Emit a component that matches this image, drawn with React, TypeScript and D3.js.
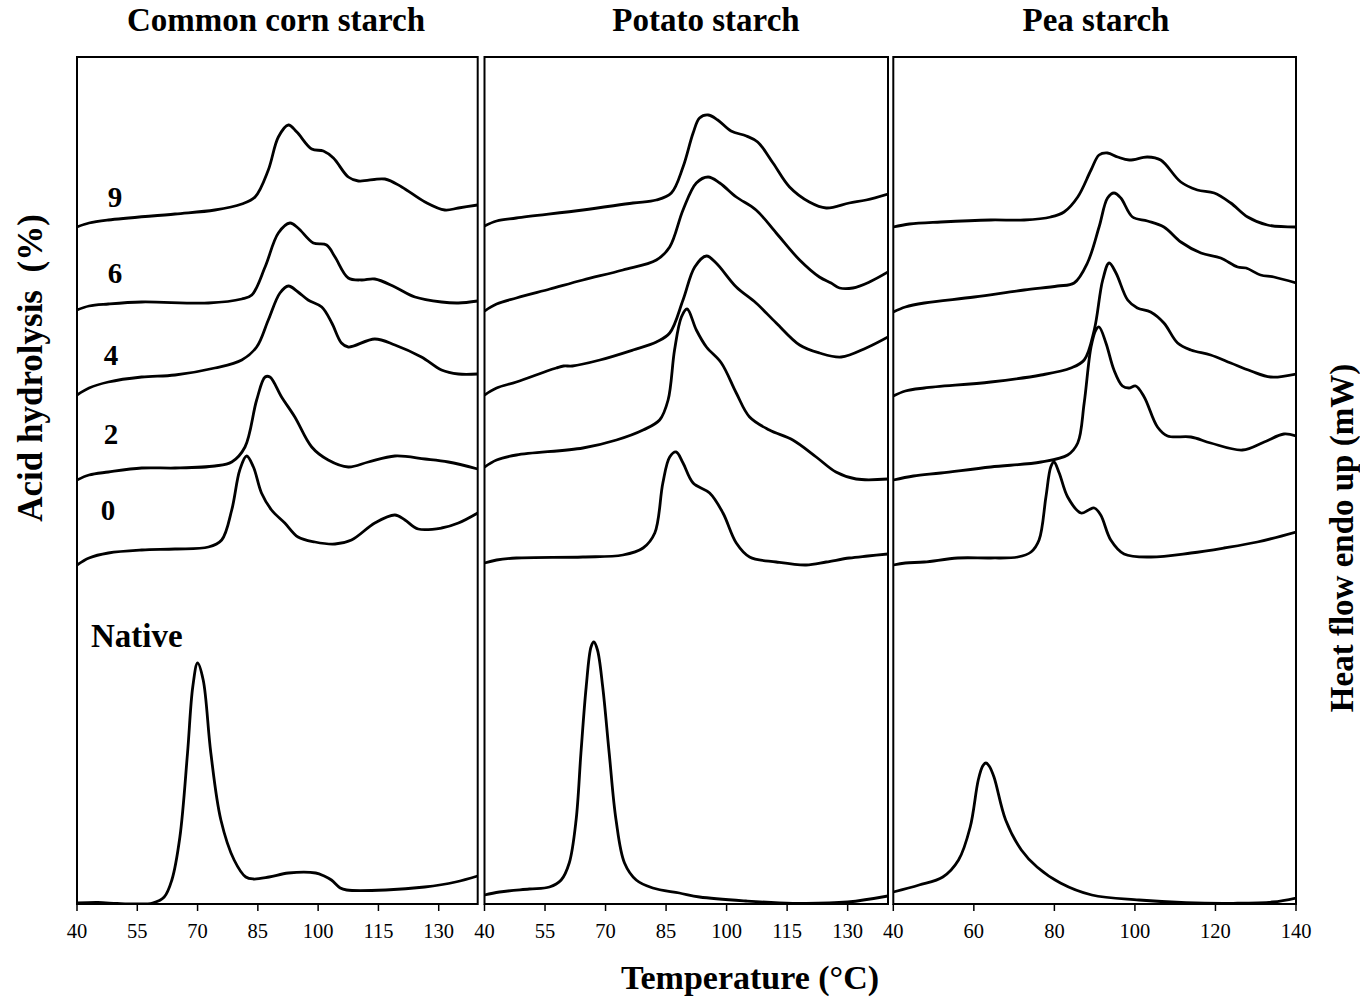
import React from "react";
import * as d3 from "d3";

type Pt = [number, number];

// DSC thermograms: temperature (°C) vs heat flow (stacked, arbitrary units)
const panelTitles = ["Common corn starch", "Potato starch", "Pea starch"];
const seriesLabels = ["9", "6", "4", "2", "0"];
const nativeLabel = "Native";
const xTitle = "Temperature (°C)";
const leftTitle = "Acid hydrolysis  (%)";
const rightTitle = "Heat flow endo up (mW)";

const ticksCornPotato = [40, 55, 70, 85, 100, 115, 130];
const ticksPea = [40, 60, 80, 100, 120, 140];

// Common corn starch
const cornNative: Pt[] = [[40,0.1],[45.2,0.15],[50,0.05],[55,0],[58.8,0.1],[61.7,0.7],[63.6,2.4],[65.6,6.7],[67.5,15.1],[68.8,21.7],[70,24.1],[71.4,22.4],[73.3,15.1],[75.8,8.4],[79.1,4.4],[82,2.7],[83.9,2.5],[87.8,2.7],[92.6,3.1],[99.4,3.1],[101.5,2.8],[103.3,2.4],[105.5,1.6],[107.1,1.4],[116.8,1.4],[126.5,1.7],[134.2,2.2],[139.7,2.8]];
const corn0: Pt[] = [[40,33.9],[43,34.6],[47.8,35.1],[56.1,35.4],[64.4,35.5],[72.7,35.7],[76,36.4],[78.5,39.4],[80.5,43.4],[82.2,44.8],[83.9,43.7],[85.9,41.1],[88.4,39.4],[91.7,38.1],[95,36.7],[99.2,36.2],[104.2,36.0],[108.3,36.4],[114.1,38.1],[119.1,38.9],[121.6,38.4],[124.9,37.5],[130.7,37.6],[134.9,38.1],[139.7,39.1]];
const corn2: Pt[] = [[40,42.4],[43,42.9],[47.8,43.2],[56.1,43.6],[64.4,43.6],[74.3,43.8],[78.5,44.2],[81.8,45.7],[84.7,50.4],[86.8,52.7],[88,52.7],[90.9,50.7],[94.2,48.7],[98.4,45.7],[102.5,44.4],[107.5,43.7],[112.5,44.2],[119.1,44.8],[126.6,44.5],[132.4,44.2],[139.7,43.5]];
const corn4: Pt[] = [[40,50.9],[43,51.6],[47.8,52.2],[56.1,52.7],[64.4,52.9],[74.3,53.6],[81,54.4],[84.7,55.7],[87.6,58.4],[90.5,61.1],[92.6,61.8],[95,61.2],[97.5,60.4],[100.9,59.7],[103.4,58.1],[105.8,56.1],[107.5,55.7],[114.1,56.5],[119.1,55.9],[125.7,54.7],[130.7,53.4],[134.9,53.0],[139.7,53.0]];
const corn6: Pt[] = [[40,59.4],[43,59.8],[47.8,60.0],[56.1,60.2],[72.7,60.1],[81,60.5],[83.5,60.9],[86.8,63.7],[90.1,67.1],[93,68.1],[95,67.6],[98.8,66.1],[102.1,65.9],[104.2,64.7],[107.5,62.6],[110.8,62.4],[114.1,62.5],[119.1,61.7],[124.1,60.7],[130.7,60.2],[134.9,60.1],[139.7,60.3]];
const corn9: Pt[] = [[40,67.7],[43,68.1],[47.8,68.4],[64.4,69.0],[74.3,69.4],[81,70.0],[84.3,70.7],[87.6,73.4],[90.1,76.7],[92.6,77.9],[94.7,77.2],[98.4,75.5],[101.3,75.3],[103.8,74.6],[107.5,72.7],[110,72.3],[116.6,72.5],[120.8,71.7],[126.6,70.2],[131.5,69.4],[134.9,69.6],[139.7,69.9]];

// Potato starch
const potatoNative: Pt[] = [[40,0.9],[43.7,1.2],[51.1,1.5],[56.1,1.7],[59,2.4],[61,4.1],[62.7,8.4],[63.9,15.1],[65.2,21.7],[66.4,25.7],[67.1,26.2],[68,25.4],[69.3,21.7],[70.9,15.1],[72.6,8.4],[74.7,4.1],[77.6,2.4],[81.7,1.6],[88.3,1.1],[93.3,0.7],[104.8,0.3],[116.4,0.07],[130,0.2],[140,0.8]];
const potato0: Pt[] = [[40,34.1],[43,34.4],[47.9,34.6],[64.4,34.7],[74.3,34.9],[79.3,35.6],[82.2,37.1],[84.2,42.1],[85.9,44.7],[87.5,45.2],[89.2,44.1],[91.7,42.1],[95.8,41.1],[99.1,39.1],[102.4,36.1],[105.7,34.7],[112.3,34.2],[119.7,33.9],[124.7,34.2],[130.4,34.6],[135,34.8],[140,35.0]];
const potato2: Pt[] = [[40,43.7],[43,44.4],[47.9,44.9],[64.4,45.6],[72.7,46.4],[79.3,47.4],[83.4,48.4],[85.5,50.4],[87.1,55.4],[88.8,58.7],[90.2,59.5],[92.5,57.4],[95,55.7],[98.7,54.1],[102.4,51.1],[105.7,48.7],[110.6,47.4],[116.4,46.4],[122.2,44.7],[127.1,43.2],[132.1,42.5],[140,42.5]];
const potato4: Pt[] = [[40,50.9],[43,51.6],[47.9,52.2],[55.5,53.3],[57.8,53.6],[59.6,53.8],[61.8,53.8],[68.6,54.4],[76.8,55.4],[82.6,56.2],[85.9,57.1],[89.2,60.4],[92.1,63.7],[95,64.8],[97.4,64.1],[102.4,61.7],[107.3,60.1],[112.3,58.1],[118.1,55.9],[123,55.1],[128.4,54.7],[134.6,55.6],[140,56.7]];
const potato6: Pt[] = [[40,59.3],[43,60.0],[47.9,60.6],[56.2,61.5],[64.4,62.4],[74.3,63.4],[82.6,64.4],[85.9,65.7],[89.2,69.4],[92.5,72.1],[95.4,72.7],[98.3,72.1],[102.4,70.7],[107.3,69.4],[112.3,67.1],[118.1,64.4],[123,62.7],[125.9,62.1],[128,61.6],[131.3,61.6],[135.4,62.2],[140,63.2]];
const potato9: Pt[] = [[40,67.8],[43,68.3],[47.9,68.6],[64.4,69.4],[76.8,70.1],[82.6,70.4],[86.3,71.1],[89.2,73.7],[91.7,77.1],[93.3,78.6],[95.4,78.9],[97.8,78.4],[101.1,77.3],[104.9,76.8],[107.7,76.2],[111.5,74.1],[115.6,71.7],[120.5,70.2],[124.7,69.6],[130.4,70.1],[134.6,70.4],[140,71.0]];

// Pea starch
const peaNative: Pt[] = [[40,1.2],[46.4,1.9],[52.3,2.7],[56.2,4.4],[59.1,7.7],[61.1,12.4],[62.2,13.8],[63,14.1],[63.8,13.8],[65,12.7],[67.9,8.4],[71.8,5.4],[75.7,3.7],[81.5,2.1],[89.3,0.9],[101,0.4],[112.7,0.13],[124.4,0.07],[134.2,0.2],[140,0.6]];
const pea0: Pt[] = [[40,33.9],[43,34.1],[47.7,34.2],[56,34.6],[64.2,34.6],[70.9,34.7],[74.2,35.2],[76.2,36.4],[77.9,40.7],[79.1,43.7],[79.9,44.2],[81.2,43.1],[83.3,40.7],[86.6,39.1],[88.5,39.4],[89.9,39.6],[91.5,38.9],[94,36.4],[97.3,35.0],[103.9,34.7],[113.9,35.1],[122.1,35.6],[130.4,36.2],[140,37.2]];
const pea2: Pt[] = [[40,42.4],[45,42.8],[51.8,43.1],[64.2,43.7],[76.7,44.2],[83.3,44.9],[85.8,46.1],[87.4,50.1],[89.1,55.7],[90.3,57.4],[91.1,57.7],[92.8,56.1],[94.8,53.4],[96.9,51.8],[98.5,51.6],[100.2,51.8],[102.3,50.7],[105.6,47.7],[108.1,46.8],[113.9,46.7],[118.8,46.1],[126.7,45.4],[132.1,46.2],[137,47.0],[140,46.8]];
const pea4: Pt[] = [[40,50.8],[43,51.3],[47.7,51.6],[64.2,52.2],[76.7,52.9],[84.1,53.6],[87.4,54.4],[89.9,57.4],[92,62.4],[93.6,64.1],[95.3,63.1],[98.2,60.4],[100.6,59.6],[103.9,59.2],[107.2,58.1],[110.6,56.1],[113.9,55.4],[118.8,54.9],[123.8,54.1],[128.8,53.3],[133.7,52.7],[140,53.0]];
const pea6: Pt[] = [[40,59.2],[43,59.7],[47.7,60.1],[60.1,60.7],[72.5,61.4],[80.8,61.8],[84.9,62.1],[88.2,64.1],[91.1,67.7],[93.2,70.6],[94.8,71.1],[96.5,70.6],[99.4,68.7],[103.1,68.3],[107.2,67.7],[111.4,66.2],[116.4,65.1],[121.3,64.6],[125.5,63.7],[127.6,63.6],[131.2,62.9],[134.5,62.7],[140,62.1]];
const pea9: Pt[] = [[40,67.7],[44,68.0],[51.8,68.2],[64.2,68.4],[72.5,68.4],[79.1,68.7],[82.4,69.2],[85.8,70.7],[89.1,73.4],[91.1,74.9],[93.2,75.1],[95.7,74.7],[98.6,74.4],[103.1,74.7],[106.4,74.4],[111.4,72.2],[115.5,71.4],[119.7,71.1],[123.8,70.1],[128,68.7],[132.9,67.9],[140,67.7]];

// Layout
const W = 1360;
const H = 1001;
const TOP = 57;
const BOTTOM = 904;
const FONT = "'Liberation Serif', 'Times New Roman', Times, serif";

const panels = [
  { title: panelTitles[0], titleX: 276, left: 77, right: 477.7, tMax: 139.7, ticks: ticksCornPotato, curves: [cornNative, corn0, corn2, corn4, corn6, corn9] },
  { title: panelTitles[1], titleX: 706, left: 484.5, right: 888, tMax: 140, ticks: ticksCornPotato, curves: [potatoNative, potato0, potato2, potato4, potato6, potato9] },
  { title: panelTitles[2], titleX: 1096, left: 893.3, right: 1296, tMax: 140, ticks: ticksPea, curves: [peaNative, pea0, pea2, pea4, pea6, pea9] },
];

// label anchor points inside the first panel: [x, baseline]
const labelPos: Pt[] = [[115, 207], [115, 283], [111, 365], [111, 444], [108, 520]];

const y = d3.scaleLinear().domain([0, 84.7]).range([BOTTOM, TOP]);

export default function App() {
  return (
    <svg width={W} height={H} viewBox={`0 0 ${W} ${H}`} style={{ display: "block", position: "absolute", left: 0, top: 0, background: "#fff" }}>
      <rect width={W} height={H} fill="#fff" />
      {panels.map((p, i) => {
        const x = d3.scaleLinear().domain([40, p.tMax]).range([p.left, p.right]);
        const line = d3
          .line<Pt>()
          .x((d) => x(d[0]))
          .y((d) => y(d[1]))
          .curve(d3.curveCatmullRom.alpha(0.5));
        const clipId = `clip-${i}`;
        return (
          <g key={i}>
            <defs>
              <clipPath id={clipId}>
                <rect x={p.left} y={TOP} width={p.right - p.left} height={BOTTOM - TOP} />
              </clipPath>
            </defs>
            <g clipPath={`url(#${clipId})`}>
              {p.curves.map((c, j) => (
                <path key={j} d={line(c) || ""} fill="none" stroke="#000" strokeWidth={2.8} strokeLinejoin="round" />
              ))}
            </g>
            <rect x={p.left} y={TOP} width={p.right - p.left} height={BOTTOM - TOP} fill="none" stroke="#000" strokeWidth={2} />
            {p.ticks.map((t) => (
              <g key={t}>
                <line x1={x(t)} x2={x(t)} y1={BOTTOM} y2={BOTTOM + 7} stroke="#000" strokeWidth={1.5} />
                <text x={x(t)} y={938} textAnchor="middle" fontFamily={FONT} fontSize={20.5} fill="#000">
                  {t}
                </text>
              </g>
            ))}
            <text x={p.titleX} y={31} textAnchor="middle" fontFamily={FONT} fontSize={33} fontWeight="bold" fill="#000">
              {p.title}
            </text>
          </g>
        );
      })}
      {seriesLabels.map((s, k) => (
        <text key={s} x={labelPos[k][0]} y={labelPos[k][1]} textAnchor="middle" fontFamily={FONT} fontSize={29} fontWeight="bold" fill="#000">
          {s}
        </text>
      ))}
      <text x={91} y={647} fontFamily={FONT} fontSize={33} fontWeight="bold" fill="#000">
        {nativeLabel}
      </text>
      <text x={750} y={989} textAnchor="middle" fontFamily={FONT} fontSize={34} fontWeight="bold" fill="#000">
        {xTitle}
      </text>
      <text transform="translate(42,368) rotate(-90)" textAnchor="middle" fontFamily={FONT} fontSize={35} fontWeight="bold" fill="#000" style={{ whiteSpace: "pre" }}>
        {leftTitle}
      </text>
      <text transform="translate(1353,538) rotate(-90)" textAnchor="middle" fontFamily={FONT} fontSize={33} fontWeight="bold" fill="#000">
        {rightTitle}
      </text>
    </svg>
  );
}
